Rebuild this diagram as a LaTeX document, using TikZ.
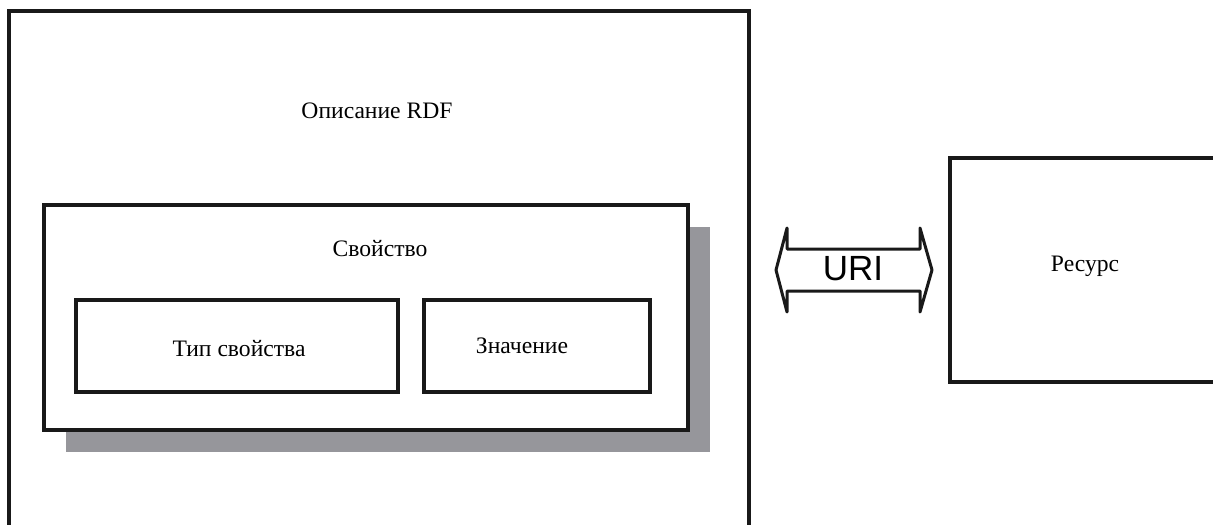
\documentclass[tikz,border=0pt]{standalone}
\usepackage{fontspec}
\setmainfont{Liberation Serif}
\newfontfamily\urifont{Liberation Sans}
\definecolor{shadowgray}{RGB}{150,150,155}
\definecolor{linegray}{RGB}{25,25,25}
\begin{document}
\begin{tikzpicture}[x=0.5pt,y=-0.5pt,
  boxthick/.style={draw=linegray,line width=1.8pt,fill=white},
  boxmid/.style={draw=linegray,line width=1.6pt,fill=white},
  lbl/.style={font=\fontsize{11.8pt}{13pt}\selectfont,inner sep=0pt,anchor=center}]
\useasboundingbox (0,0) rectangle (1213,524);
\clip (0,0) rectangle (1213,524);
% outer description box
\draw[boxthick] (9,11) rectangle (749,540);
\node[lbl] (rdf) at (377,111) {Описание RDF};
% shadow
\fill[shadowgray] (66,227) rectangle (710,452);
% property box
\draw[boxthick] (44,205) rectangle (688,430);
\node[lbl] (prop) at (380,249) {Свойство};
% inner boxes
\draw[boxmid] (76,300) rectangle (398,392);
\node[lbl] (ptype) at (239,349) {Тип свойства};
\draw[boxmid] (424,300) rectangle (650,392);
\node[lbl] (pval) at (522,346) {Значение};
% resource
\draw[boxthick] (950,158) rectangle (1230,382);
\node[lbl] (res) at (1085,266) {Ресурс};
% URI double arrow
\draw[draw=linegray,line width=1.5pt,line join=round,fill=white]
  (787,249) -- (787,228) -- (776,270) -- (787,312) -- (787,291)
  -- (920,291) -- (920,312) -- (932,270) -- (920,228) -- (920,249) -- cycle;
\node[inner sep=0pt,font=\urifont\fontsize{17.5pt}{19pt}\selectfont] (uri) at (853,269) {URI};
\end{tikzpicture}
\end{document}
